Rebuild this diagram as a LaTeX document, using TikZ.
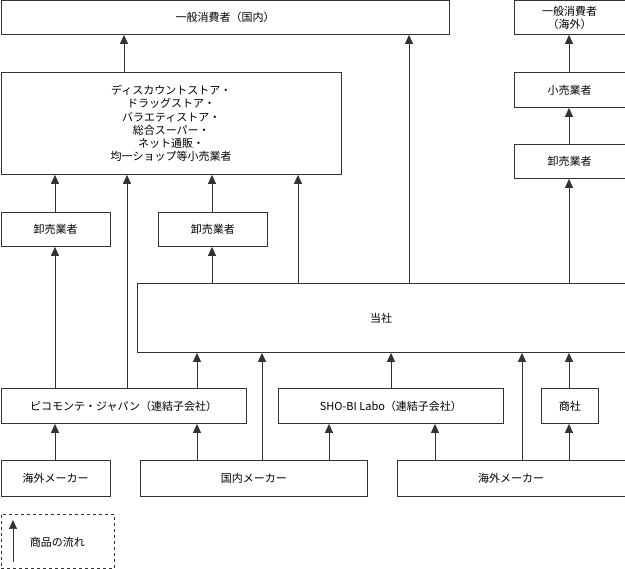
\documentclass[tikz,border=0pt]{standalone}
\usepackage{fontspec}
\setmainfont{Noto Sans CJK JP}
\usetikzlibrary{arrows.meta}
\tikzset{
  box/.style={draw=black!80, line width=0.9pt, inner sep=0pt, anchor=north west, align=center, font=\fontsize{11}{13.3}\selectfont},
  arr/.style={draw=black!80, line width=0.7pt, -{Triangle[width=8pt,length=9pt]}},
}
\newcommand{\bx}[6]{\node[box, minimum width=#4-#2, minimum height=#5-#3] (#1) at (#2,#3) {#6};}
\begin{document}
\begin{tikzpicture}[x=1pt,y=-1pt]
\useasboundingbox (0,0) rectangle (625,569);
\bx{top}{0.5}{0.5}{449}{34}{一般消費者（国内）}
\bx{topR}{514}{0.5}{624.5}{34}{一般消費者\\（海外）}
\bx{ds}{0.5}{72}{341}{174}{ディスカウントストア・\\ドラッグストア・\\バラエティストア・\\総合スーパー・\\ネット通販・\\均一ショップ等小売業者}
\bx{kouri}{514}{72}{624.5}{107}{小売業者}
\bx{orosiR}{514}{144}{624.5}{178}{卸売業者}
\bx{orosiL}{0.5}{212}{110}{246}{卸売業者}
\bx{orosiM}{158}{212}{267}{246}{卸売業者}
\bx{tosha}{137}{283}{624.5}{352}{当社}
\bx{pico}{0.5}{388}{246}{423}{ピコモンテ・ジャパン（連結子会社）}
\bx{shobi}{278}{388}{503}{423}{SHO-BI Labo（連結子会社）}
\bx{shosha}{541}{388}{598}{423}{商社}
\bx{kaigaiL}{0.5}{460}{110}{496}{海外メーカー}
\bx{kokunai}{140}{460}{367}{496}{国内メーカー}
\bx{kaigaiR}{397}{460}{624.5}{496}{海外メーカー}
\node[box, draw=black!80, dashed, minimum width=113.5, minimum height=54] (legend) at (0.5,514) {};
% connectors
\draw[arr] (ds.north -| 124,0) -- (top.south -| 124,0);
\draw[arr] (tosha.north -| 409,0) -- (top.south -| 409,0);
\draw[arr] (kouri.north -| 569,0) -- (topR.south -| 569,0);
\draw[arr] (orosiR.north -| 569,0) -- (kouri.south -| 569,0);
\draw[arr] (tosha.north -| 569,0) -- (orosiR.south -| 569,0);
\draw[arr] (orosiL.north -| 55,0) -- (ds.south -| 55,0);
\draw[arr] (pico.north -| 127,0) -- (ds.south -| 127,0);
\draw[arr] (orosiM.north -| 212,0) -- (ds.south -| 212,0);
\draw[arr] (tosha.north -| 298,0) -- (ds.south -| 298,0);
\draw[arr] (tosha.north -| 212,0) -- (orosiM.south -| 212,0);
\draw[arr] (pico.north -| 55,0) -- (orosiL.south -| 55,0);
\draw[arr] (pico.north -| 197,0) -- (tosha.south -| 197,0);
\draw[arr] (kaigaiL.north -| 55,0) -- (pico.south -| 55,0);
\draw[arr] (kokunai.north -| 197,0) -- (pico.south -| 197,0);
\draw[arr] (kokunai.north -| 262,0) -- (tosha.south -| 262,0);
\draw[arr] (kokunai.north -| 329,0) -- (shobi.south -| 329,0);
\draw[arr] (shobi.north -| 391,0) -- (tosha.south -| 391,0);
\draw[arr] (kaigaiR.north -| 435,0) -- (shobi.south -| 435,0);
\draw[arr] (kaigaiR.north -| 522,0) -- (tosha.south -| 522,0);
\draw[arr] (kaigaiR.north -| 569,0) -- (shosha.south -| 569,0);
\draw[arr] (shosha.north -| 569,0) -- (tosha.south -| 569,0);
% legend
\coordinate (lgA) at (13,562);
\coordinate (lgB) at (13,520);
\draw[arr] (lgA) -- (lgB);
\node[font=\fontsize{11}{13.3}\selectfont] (lgtext) at (57.5,542) {商品の流れ};
\end{tikzpicture}
\end{document}
